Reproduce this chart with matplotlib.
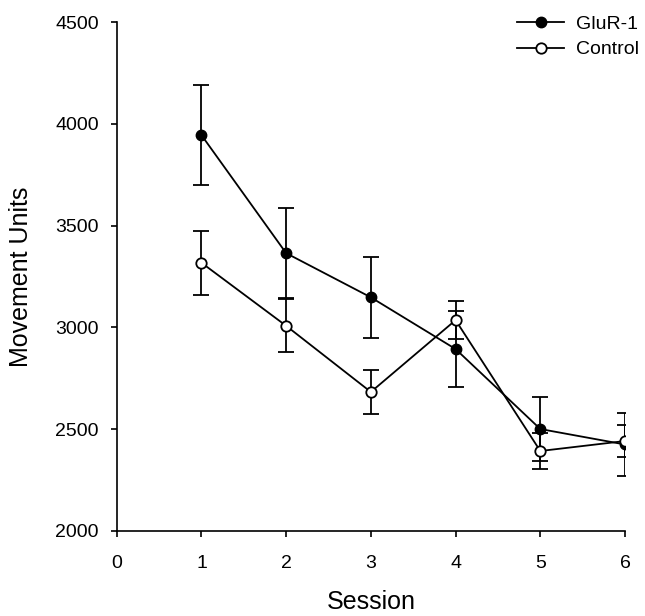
import matplotlib.pyplot as plt
import numpy as np

plt.rcParams['font.family'] = ['Liberation Sans', 'DejaVu Sans']

sessions = [1, 2, 3, 4, 5, 6]
glur_mean = [3945, 3365, 3148, 2894, 2501, 2425]
glur_sem = [245, 221, 198, 186, 157, 155]
ctrl_mean = [3318, 3008, 2683, 3036, 2393, 2442]
ctrl_sem = [158, 131, 110, 94, 88, 79]

fig = plt.figure(figsize=(6.45, 6.16), dpi=100)
ax = fig.add_axes([0.181, 0.138, 0.788, 0.826])

# GluR-1: filled circles
g = ax.errorbar(sessions, glur_mean, yerr=glur_sem, color='black', marker='o',
                markersize=7.5, markerfacecolor='black', markeredgecolor='black',
                linewidth=1.3, elinewidth=1.3, capsize=5.5, capthick=1.3,
                zorder=3)
# Control: open circles
c = ax.errorbar(sessions, ctrl_mean, yerr=ctrl_sem, color='black', marker='o',
                markersize=7.5, markerfacecolor='white', markeredgecolor='black',
                markeredgewidth=1.3, linewidth=1.3, elinewidth=1.3, capsize=5.5,
                capthick=1.3, zorder=4)

ax.set_xlim(0, 6)
ax.set_ylim(2000, 4500)
ax.set_xticks(range(0, 7))
ax.set_yticks(range(2000, 4501, 500))

ax.spines['top'].set_visible(False)
ax.spines['right'].set_visible(False)
ax.spines['left'].set_linewidth(1.2)
ax.spines['bottom'].set_linewidth(1.2)
ax.tick_params(direction='out', length=4, width=1.2, labelsize=14)
ax.tick_params(axis='x', pad=13)
ax.tick_params(axis='y', pad=9)

ax.set_xlabel('Session', fontsize=18)
ax.set_ylabel('Movement Units', fontsize=18)
ax.xaxis.set_label_coords(0.5, -0.115)
ax.yaxis.set_label_coords(-0.165, 0.5)

fig.legend([g[0], c[0]], ['GluR-1', 'Control'], loc='upper right',
           bbox_to_anchor=(0.99, 0.975), frameon=False, fontsize=14,
           handlelength=2.4, handletextpad=0.6, labelspacing=0.4,
           borderpad=0, borderaxespad=0)

fig.savefig('out.png', dpi=100)
